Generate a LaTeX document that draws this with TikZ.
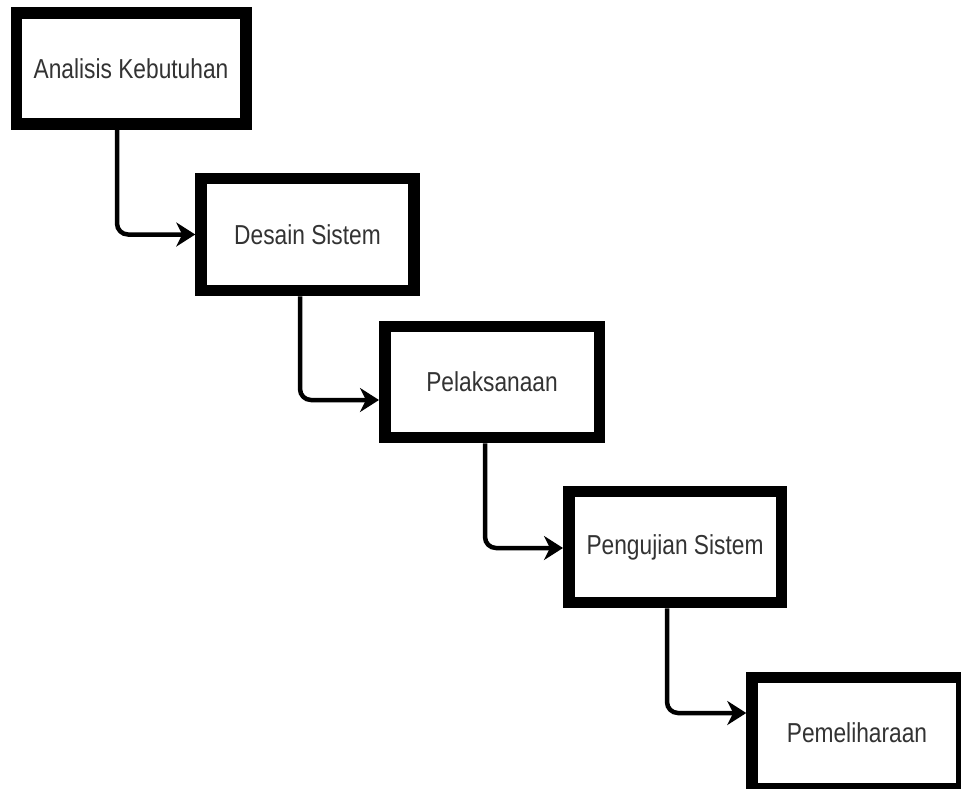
\documentclass[tikz,border=0pt]{standalone}
\usepackage{fontspec}
\setmainfont{Liberation Sans}
\newfontfamily\stagefont[FakeStretch=0.83]{Liberation Sans}
\usetikzlibrary{arrows.meta,positioning}

\begin{document}
\begin{tikzpicture}[x=1pt,y=-1pt,
        stage/.style={draw=black, line width=11.5pt, fill=white, minimum width=213pt, minimum height=111pt,
            inner sep=0pt, text=black!80, font=\stagefont\fontsize{27.4}{32}\selectfont},
        flow/.style={line width=4.5pt, rounded corners=11pt, -{Stealth[length=19pt,width=24pt,inset=6pt]}}]
        % page
        \clip (0,0) rectangle (961,789);
        \fill[white] (0,0) rectangle (961,789);

        % waterfall stages
        \node[stage, minimum width=229.5pt] (analisis) at (131,68.5) {Analisis Kebutuhan};
        \node[stage, minimum height=112pt] (desain) at (307.5,234.5) {Desain Sistem};
        \node[stage, minimum width=214.5pt] (pelaksanaan) at (492,382) {Pelaksanaan};
        \node[stage, minimum width=212.5pt] (pengujian) at (675,547) {Pengujian Sistem};
        \node[stage, minimum width=210pt] (pemeliharaan) at (857,733) {Pemeliharaan};

        % arrows
        \draw[flow] ([xshift=-14pt]analisis.south) |- (desain.west);
        \draw[flow] ([xshift=-7.5pt]desain.south) |- ([yshift=-18pt]pelaksanaan.west);
        \draw[flow] ([xshift=-7pt]pelaksanaan.south) |- ([yshift=-1pt]pengujian.west);
        \draw[flow] ([xshift=-8pt]pengujian.south) |- ([yshift=20pt]pemeliharaan.west);
\end{tikzpicture}
\end{document}
